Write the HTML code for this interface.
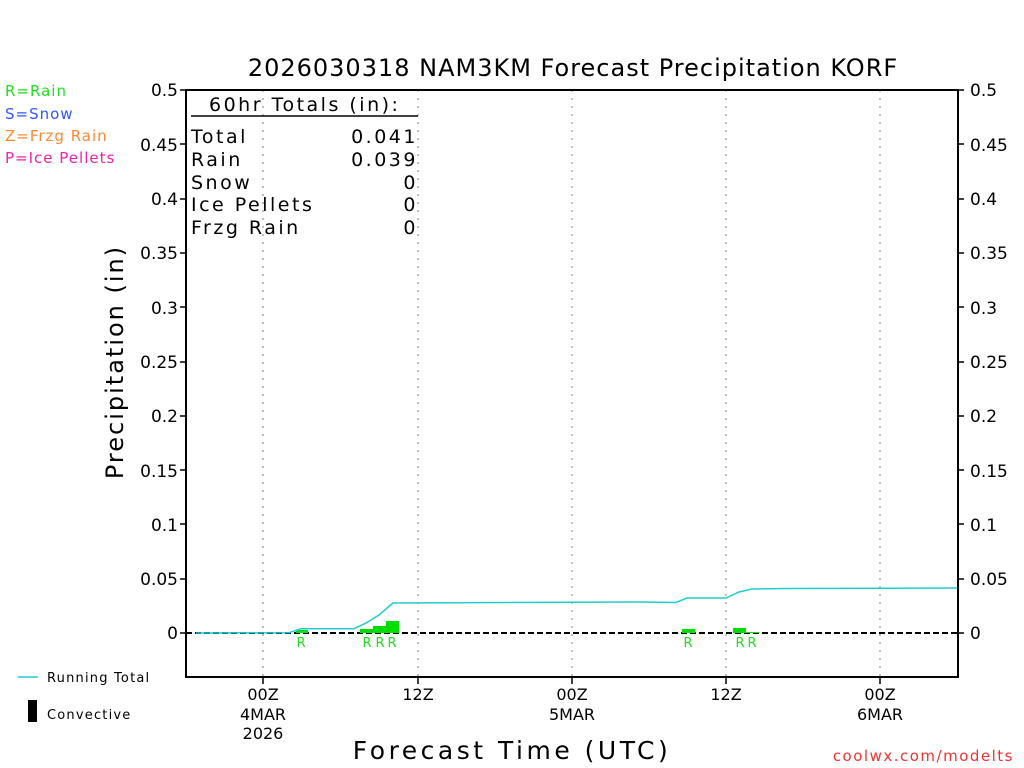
<!DOCTYPE html>
<html><head><meta charset="utf-8"><style>
body{margin:0;background:#fff;}
svg{display:block;font-family:"DejaVu Sans","Liberation Sans",sans-serif;}
</style></head><body>
<svg width="1024" height="768" viewBox="0 0 1024 768" xmlns="http://www.w3.org/2000/svg">
<rect width="1024" height="768" fill="#fff"/>
<text x="573" y="76" font-size="24" text-anchor="middle" fill="#000" letter-spacing="1">2026030318 NAM3KM Forecast Precipitation KORF</text>
<g font-size="15" letter-spacing="1">
<text x="5" y="96" fill="#22dd22">R=Rain</text>
<text x="5" y="119" fill="#3355ff">S=Snow</text>
<text x="5" y="141" fill="#ff8833">Z=Frzg Rain</text>
<text x="5" y="163" fill="#ee22aa">P=Ice Pellets</text>
</g>
<g stroke="#aaa" stroke-width="1.5" stroke-dasharray="2,6">
<line x1="263" y1="90" x2="263" y2="677"/><line x1="418" y1="90" x2="418" y2="677"/>
<line x1="572" y1="90" x2="572" y2="677"/><line x1="726" y1="90" x2="726" y2="677"/>
<line x1="880" y1="90" x2="880" y2="677"/>
</g>
<line x1="186" y1="633" x2="958" y2="633" stroke="#000" stroke-width="2" stroke-dasharray="6,3"/>
<g fill="#00dd00">
<rect x="296" y="630" width="12" height="3"/>
<rect x="360" y="629" width="14" height="4"/>
<rect x="373" y="626" width="13" height="7"/>
<rect x="386" y="621" width="13" height="12"/>
<rect x="682" y="629" width="13" height="4"/>
<rect x="733" y="628" width="13" height="5"/>
<rect x="746" y="632" width="13" height="1"/>
</g>
<polyline fill="none" stroke="#22cccc" stroke-width="1.5" points="196,633 289,632.7 301,628.7 354,628.7 366,623 379,615 393,603 641,602 676,602.5 687,598 726,598 739,592 752,589 786,588.5 958,588"/>
<g font-size="13" fill="#22dd22" text-anchor="middle">
<text x="301" y="647">R</text><text x="367" y="647">R</text><text x="380" y="647">R</text><text x="392" y="647">R</text>
<text x="688" y="647">R</text><text x="740" y="647">R</text><text x="752" y="647">R</text>
</g>
<rect x="186" y="90" width="772" height="587" fill="none" stroke="#000" stroke-width="2"/>
<g font-size="17" fill="#000">
<g text-anchor="end">
<text x="178" y="96">0.5</text><text x="178" y="151">0.45</text><text x="178" y="205">0.4</text>
<text x="178" y="259">0.35</text><text x="178" y="314">0.3</text><text x="178" y="368">0.25</text>
<text x="178" y="422">0.2</text><text x="178" y="477">0.15</text><text x="178" y="531">0.1</text>
<text x="178" y="585">0.05</text><text x="178" y="639">0</text>
</g>
<text x="970" y="96">0.5</text><text x="970" y="151">0.45</text><text x="970" y="205">0.4</text>
<text x="970" y="259">0.35</text><text x="970" y="314">0.3</text><text x="970" y="368">0.25</text>
<text x="970" y="422">0.2</text><text x="970" y="477">0.15</text><text x="970" y="531">0.1</text>
<text x="970" y="585">0.05</text><text x="970" y="639">0</text>
</g>
<g stroke="#000" stroke-width="1.5">
<line x1="180" y1="90" x2="186" y2="90"/><line x1="958" y1="90" x2="964" y2="90"/>
<line x1="180" y1="144" x2="186" y2="144"/><line x1="180" y1="199" x2="186" y2="199"/><line x1="180" y1="253" x2="186" y2="253"/><line x1="180" y1="307" x2="186" y2="307"/><line x1="180" y1="362" x2="186" y2="362"/><line x1="180" y1="416" x2="186" y2="416"/><line x1="180" y1="470" x2="186" y2="470"/><line x1="180" y1="524" x2="186" y2="524"/><line x1="180" y1="579" x2="186" y2="579"/><line x1="180" y1="633" x2="186" y2="633"/>
<line x1="958" y1="144" x2="964" y2="144"/><line x1="958" y1="199" x2="964" y2="199"/><line x1="958" y1="253" x2="964" y2="253"/><line x1="958" y1="307" x2="964" y2="307"/><line x1="958" y1="362" x2="964" y2="362"/><line x1="958" y1="416" x2="964" y2="416"/><line x1="958" y1="470" x2="964" y2="470"/><line x1="958" y1="524" x2="964" y2="524"/><line x1="958" y1="579" x2="964" y2="579"/><line x1="958" y1="633" x2="964" y2="633"/>
<line x1="263" y1="677" x2="263" y2="684"/><line x1="418" y1="677" x2="418" y2="684"/><line x1="572" y1="677" x2="572" y2="684"/><line x1="726" y1="677" x2="726" y2="684"/><line x1="880" y1="677" x2="880" y2="684"/>
</g>
<g font-size="16" fill="#000" text-anchor="middle">
<text x="263" y="700">00Z</text><text x="263" y="720">4MAR</text><text x="263" y="739">2026</text>
<text x="418" y="700">12Z</text>
<text x="572" y="700">00Z</text><text x="572" y="720">5MAR</text>
<text x="726" y="700">12Z</text>
<text x="880" y="700">00Z</text><text x="880" y="720">6MAR</text>
</g>
<text x="512" y="759" font-size="25" text-anchor="middle" letter-spacing="3.5">Forecast Time (UTC)</text>
<text transform="translate(123,362) rotate(-90)" font-size="24" text-anchor="middle" letter-spacing="2">Precipitation (in)</text>
<g font-size="19" fill="#000" letter-spacing="2.5">
<text x="209" y="111">60hr Totals (in):</text>
<text x="191" y="143">Total</text><text x="418" y="143" text-anchor="end">0.041</text>
<text x="191" y="166">Rain</text><text x="418" y="166" text-anchor="end">0.039</text>
<text x="191" y="189">Snow</text><text x="418" y="189" text-anchor="end">0</text>
<text x="191" y="211">Ice Pellets</text><text x="418" y="211" text-anchor="end">0</text>
<text x="191" y="234">Frzg Rain</text><text x="418" y="234" text-anchor="end">0</text>
</g>
<line x1="191" y1="116" x2="418" y2="116" stroke="#000" stroke-width="1.5"/>
<line x1="18" y1="677" x2="38" y2="677" stroke="#22cccc" stroke-width="1.5"/>
<text x="47" y="682" font-size="13" letter-spacing="1.2">Running Total</text>
<rect x="28" y="700" width="9" height="22" fill="#000"/>
<text x="47" y="719" font-size="13" letter-spacing="1.2">Convective</text>
<text x="1014" y="761" font-size="15" fill="#ee3333" text-anchor="end" letter-spacing="1.5">coolwx.com/modelts</text>
</svg>
</body></html>
